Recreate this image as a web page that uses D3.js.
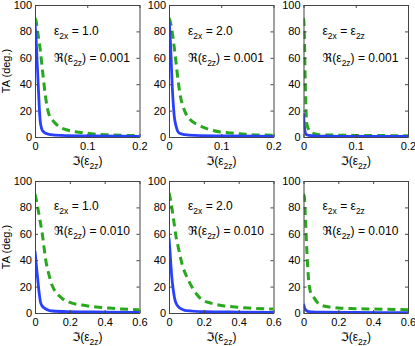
<!DOCTYPE html>
<html lang="en">
<head>
    <meta charset="UTF-8">
    <title>TA vs Im(eps2z)</title>
    <script src="https://d3js.org/d3.v7.min.js"></script>
    <style>
        body { margin: 0; background: #fff; }
        svg { display: block; font-family: "Liberation Sans", Arial, "DejaVu Sans", sans-serif; }
        .tick text { font-size: 11px; fill: #000; }
        .domain { stroke: #444; }
        .tick line { stroke: #444; }
        .ann { font-size: 12px; fill: #000; }
    </style>
</head>
<body>
    <svg width="415" height="346"></svg>

    <script>
        // x range and tick labels per row
        const xMaxTop = 0.2, xMaxBottom = 0.6;
        const xTicksTop = [0, 0.1, 0.2];
        const xTicksBottom = [0, 0.2, 0.4, 0.6];
        const yTicks = [0, 20, 40, 60, 80, 100];

        // annotation labels
        const eps2xLabels = ["1.0", "2.0", "eq"];
        const reLabels = ["0.001", "0.010"];

        // top row (Re = 0.001), blue solid
        const blueXTop = [0, 0.002, 0.004, 0.006, 0.008, 0.010, 0.013, 0.016, 0.02, 0.03, 0.05, 0.1, 0.2];
        const blue1 = [86, 75, 58, 41, 24, 12, 6, 4, 2.8, 1.8, 1.2, 0.8, 0.5];
        const blue2 = [88, 78, 60, 40, 26, 16, 9, 5, 2.8, 1.8, 1.2, 0.8, 0.5];
        const blueX3 = [0, 0.001, 0.002, 0.003, 0.005, 0.01, 0.02, 0.05, 0.1, 0.2];
        const blue3 = [18, 12, 7, 4, 2, 1.2, 0.8, 0.6, 0.5, 0.4];

        // top row, green dashed
        const greenX1 = [0, 0.002, 0.005, 0.010, 0.015, 0.020, 0.026, 0.035, 0.046, 0.06, 0.077, 0.1, 0.122, 0.15, 0.2];
        const green1 = [90, 88, 80, 66, 48, 31, 18, 12, 8, 5.5, 4, 2.8, 2, 1.5, 1];
        const greenX2 = [0, 0.002, 0.006, 0.010, 0.013, 0.017, 0.022, 0.027, 0.032, 0.04, 0.057, 0.075, 0.096, 0.12, 0.147, 0.2];
        const green2 = [90, 88, 80, 68, 58, 44, 30.5, 23, 18, 13.5, 9, 6, 4, 3, 2, 1.3];
        const greenX3 = [0, 0.001, 0.002, 0.003, 0.004, 0.006, 0.008, 0.01, 0.013, 0.02, 0.03, 0.05, 0.1, 0.2];
        const green3 = [90, 85, 70, 48, 32, 11, 7.5, 5.5, 4, 2.5, 1.8, 1.5, 1.2, 1];

        // bottom row (Re = 0.010), blue solid
        const blueXBottom = [0, 0.005, 0.01, 0.017, 0.024, 0.031, 0.04, 0.06, 0.08, 0.1, 0.2, 0.4, 0.6];
        const blue4 = [47, 40, 33, 23.7, 15, 8.6, 5.5, 3.2, 2, 1.5, 1, 0.7, 0.5];
        const blue5 = [57, 48, 38, 26, 18, 12, 7.5, 4, 2.5, 1.8, 1, 0.7, 0.5];
        const blueX6 = [0, 0.003, 0.006, 0.01, 0.015, 0.02, 0.03, 0.05, 0.1, 0.3, 0.6];
        const blue6 = [7, 5.5, 4, 2.8, 2, 1.5, 1, 0.8, 0.6, 0.4, 0.3];

        // bottom row, green dashed
        const greenX4 = [0, 0.01, 0.025, 0.04, 0.063, 0.08, 0.098, 0.125, 0.156, 0.2, 0.27, 0.35, 0.425, 0.5, 0.6];
        const green4 = [90, 84, 73, 61.6, 39, 29, 21, 15, 11, 8, 6, 4.6, 3.7, 3, 2.4];
        const greenX5 = [0, 0.01, 0.025, 0.039, 0.058, 0.077, 0.1, 0.135, 0.16, 0.19, 0.24, 0.31, 0.38, 0.46, 0.6];
        const green5 = [91, 85, 72, 59, 47, 36, 28, 19, 14, 10, 7.5, 5.5, 4.5, 3.7, 3];
        const greenX6 = [0, 0.005, 0.01, 0.015, 0.02, 0.025, 0.03, 0.04, 0.057, 0.08, 0.1, 0.15, 0.2, 0.3, 0.4, 0.6];
        const green6 = [90, 88, 75, 60, 45, 33, 24, 16, 12.3, 8, 6, 4.5, 3.8, 3.3, 3, 2.5];

        const panels = [
            { row: 0, col: 0, bx: blueXTop, by: blue1, gx: greenX1, gy: green1 },
            { row: 0, col: 1, bx: blueXTop, by: blue2, gx: greenX2, gy: green2 },
            { row: 0, col: 2, bx: blueX3, by: blue3, gx: greenX3, gy: green3 },
            { row: 1, col: 0, bx: blueXBottom, by: blue4, gx: greenX4, gy: green4 },
            { row: 1, col: 1, bx: blueXBottom, by: blue5, gx: greenX5, gy: green5 },
            { row: 1, col: 2, bx: blueX6, by: blue6, gx: greenX6, gy: green6 }
        ];

        const svg = d3.select("svg");
        const colLeft = [35, 169, 303.5];
        const rowTop = [5, 181];
        const pw = 104.5, ph = 132;

        panels.forEach((p, i) => {
            const xMax = p.row === 0 ? xMaxTop : xMaxBottom;
            const xt = p.row === 0 ? xTicksTop : xTicksBottom;
            const x = d3.scaleLinear().domain([0, xMax]).range([0, pw]);
            const y = d3.scaleLinear().domain([0, 100]).range([ph, 0]);

            const g = svg.append("g")
                .attr("transform", `translate(${colLeft[p.col]},${rowTop[p.row]})`);

            g.append("clipPath").attr("id", "clip" + i)
                .append("rect").attr("width", pw).attr("height", ph);

            const plot = g.append("g").attr("clip-path", `url(#clip${i})`);

            const line = d3.line()
                .x(d => x(d[0]))
                .y(d => y(d[1]))
                .curve(d3.curveMonotoneX);

            plot.append("path")
                .datum(d3.zip(p.gx, p.gy))
                .attr("fill", "none")
                .attr("stroke", "#28a81c")
                .attr("stroke-width", 3)
                .attr("stroke-dasharray", "8,5")
                .attr("d", line);

            plot.append("path")
                .datum(d3.zip(p.bx, p.by))
                .attr("fill", "none")
                .attr("stroke", "#2a40ff")
                .attr("stroke-width", 2.8)
                .attr("d", line);

            // axes, ticks pointing inward, mirrored on top/right
            g.append("g")
                .attr("transform", `translate(0,${ph})`)
                .call(d3.axisBottom(x).tickValues(xt).tickFormat(d3.format("~g"))
                    .tickSizeInner(-3).tickSizeOuter(0).tickPadding(5));
            g.append("g")
                .call(d3.axisTop(x).tickValues(xt).tickFormat("")
                    .tickSizeInner(-3).tickSizeOuter(0));
            g.append("g")
                .call(d3.axisLeft(y).tickValues(yTicks)
                    .tickSizeInner(-3).tickSizeOuter(0).tickPadding(3));
            g.append("g")
                .attr("transform", `translate(${pw},0)`)
                .call(d3.axisRight(y).tickValues(yTicks).tickFormat("")
                    .tickSizeInner(-3).tickSizeOuter(0));

            // annotations
            const a1 = g.append("text").attr("class", "ann")
                .attr("x", 19).attr("y", p.row === 0 ? 30 : 29);
            a1.append("tspan").text("\u03b5");
            a1.append("tspan").attr("dy", 4).style("font-size", "8.5px").text("2x");
            if (eps2xLabels[p.col] === "eq") {
                a1.append("tspan").attr("dy", -4).text(" = \u03b5");
                a1.append("tspan").attr("dy", 4).style("font-size", "8.5px").text("2z");
            } else {
                a1.append("tspan").attr("dy", -4).text(" = " + eps2xLabels[p.col]);
            }

            const a2 = g.append("text").attr("class", "ann")
                .attr("x", 19).attr("y", p.row === 0 ? 57 : 54);
            a2.append("tspan").text("\u211c(\u03b5");
            a2.append("tspan").attr("dy", 4).style("font-size", "8.5px").text("2z");
            a2.append("tspan").attr("dy", -4).text(") = " + reLabels[p.row]);

            // x label
            const xl = g.append("text").attr("class", "ann")
                .attr("x", pw / 2).attr("y", ph + 28)
                .attr("text-anchor", "middle");
            xl.append("tspan").text("\u2111(\u03b5");
            xl.append("tspan").attr("dy", 4).style("font-size", "8.5px").text("2z");
            xl.append("tspan").attr("dy", -4).text(")");

            if (p.col === 0) {
                g.append("text")
                    .attr("transform", `translate(-25,${ph / 2}) rotate(-90)`)
                    .attr("text-anchor", "middle")
                    .style("font-size", "11px")
                    .text("TA (deg.)");
            }
        });
    </script>
</body>
</html>
